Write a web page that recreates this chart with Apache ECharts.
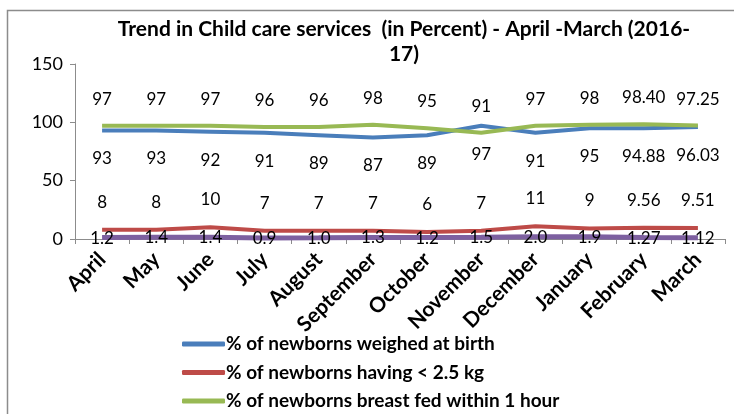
<!DOCTYPE html>
<html>
<head>
<meta charset="utf-8">
<script src="https://cdn.jsdelivr.net/npm/echarts@6/dist/echarts.min.js"></script>
<style>
    html, body { margin: 0; padding: 0; background: #fff; }
    #chart { width: 734px; height: 414px; }
</style>
</head>
<body>
<div id="chart"></div>
<script>
// months
var months = ['April', 'May', 'June', 'July', 'August', 'September', 'October',
    'November', 'December', 'January', 'February', 'March'];

// % of newborns weighed at birth
var weighed = [93, 93, 92, 91, 89, 87, 89, 97, 91, 95, 94.88, 96.03];
var weighedLabels = ['93', '93', '92', '91', '89', '87', '89', '97', '91', '95', '94.88', '96.03'];
// % of newborns having < 2.5 kg
var lowWeight = [8, 8, 10, 7, 7, 7, 6, 7, 11, 9, 9.56, 9.51];
var lowWeightLabels = ['8', '8', '10', '7', '7', '7', '6', '7', '11', '9', '9.56', '9.51'];
// % of newborns breast fed within 1 hour
var breastFed = [97, 97, 97, 96, 96, 98, 95, 91, 97, 98, 98.40, 97.25];
var breastFedLabels = ['97', '97', '97', '96', '96', '98', '95', '91', '97', '98', '98.40', '97.25'];
// fourth series (legend entry cut off in the picture)
var fourth = [1.2, 1.4, 1.4, 0.9, 1.0, 1.3, 1.2, 1.5, 2.0, 1.9, 1.27, 1.12];
var fourthLabels = ['1.2', '1.4', '1.4', '0.9', '1.0', '1.3', '1.2', '1.5', '2.0', '1.9', '1.27', '1.12'];

var yTicks = [0, 50, 100, 150];

var FONT = 'Lato';

function labelFrom(arr) {
    return function (p) { return arr[p.dataIndex]; };
}

function lineSeries(name, data, color, width, label) {
    return {
        name: name,
        type: 'line',
        data: data,
        symbol: 'circle',
        symbolSize: 0,
        color: color,
        lineStyle: { width: width },
        label: Object.assign({ show: true, fontFamily: FONT, fontSize: 17, color: '#000' }, label)
    };
}

var chart = echarts.init(document.getElementById('chart'));
var option = {
    animation: false,
    textStyle: { fontFamily: FONT },
    graphic: [{
        type: 'rect',
        left: 5, top: 8,
        shape: { width: 800, height: 500 },
        style: { fill: 'none', stroke: '#8c8c8c', lineWidth: 1.5 },
        z: -1
    }],
    title: {
        text: 'Trend in Child care services  (in Percent) - April -March (2016-\n17)',
        left: 399, top: 12, textAlign: 'center',
        textStyle: { fontFamily: FONT, fontSize: 21, fontWeight: 'bold', color: '#000', lineHeight: 25 }
    },
    legend: {
        data: ['% of newborns weighed at birth', '% of newborns having < 2.5 kg', '% of newborns breast fed within 1 hour'],
        orient: 'vertical',
        left: 182, top: 334.5,
        padding: 0,
        itemWidth: 43, itemHeight: 5, itemGap: 9.5,
        icon: 'roundRect',
        textStyle: { fontFamily: FONT, fontSize: 19, lineHeight: 19, fontWeight: 'bold', color: '#000', padding: [0, 0, 0, -4] }
    },
    grid: { left: 75, right: 9, top: 64, bottom: 175 },
    xAxis: {
        type: 'category',
        data: months,
        axisLine: { lineStyle: { color: '#8c8c8c' } },
        axisTick: { show: true, length: 5, interval: 0, lineStyle: { color: '#8c8c8c' } },
        axisLabel: {
            interval: 0, rotate: 45, margin: 17,
            fontFamily: FONT, fontSize: 21, fontWeight: 'bold', color: '#000'
        }
    },
    yAxis: {
        type: 'value',
        min: yTicks[0], max: yTicks[yTicks.length - 1], interval: 50,
        splitLine: { show: false },
        axisLine: { show: true, lineStyle: { color: '#8c8c8c' } },
        axisTick: { show: true, length: 5, lineStyle: { color: '#8c8c8c' } },
        axisLabel: { fontFamily: FONT, fontSize: 18, color: '#000', margin: 12 }
    },
    series: [
        lineSeries('% of newborns weighed at birth', weighed, '#4a7ebb', 4,
            { position: 'bottom', distance: 20, formatter: labelFrom(weighedLabels) }),
        lineSeries('% of newborns having < 2.5 kg', lowWeight, '#be4b48', 4,
            { position: 'top', distance: 19, formatter: labelFrom(lowWeightLabels) }),
        lineSeries('% of newborns breast fed within 1 hour', breastFed, '#98b954', 4,
            { position: 'top', distance: 18, formatter: labelFrom(breastFedLabels) }),
        lineSeries('fourth', fourth, '#7d60a0', 5,
            { position: 'top', distance: 0, offset: [0, 9], formatter: labelFrom(fourthLabels) })
    ]
};
chart.setOption(option);
</script>
</body>
</html>
